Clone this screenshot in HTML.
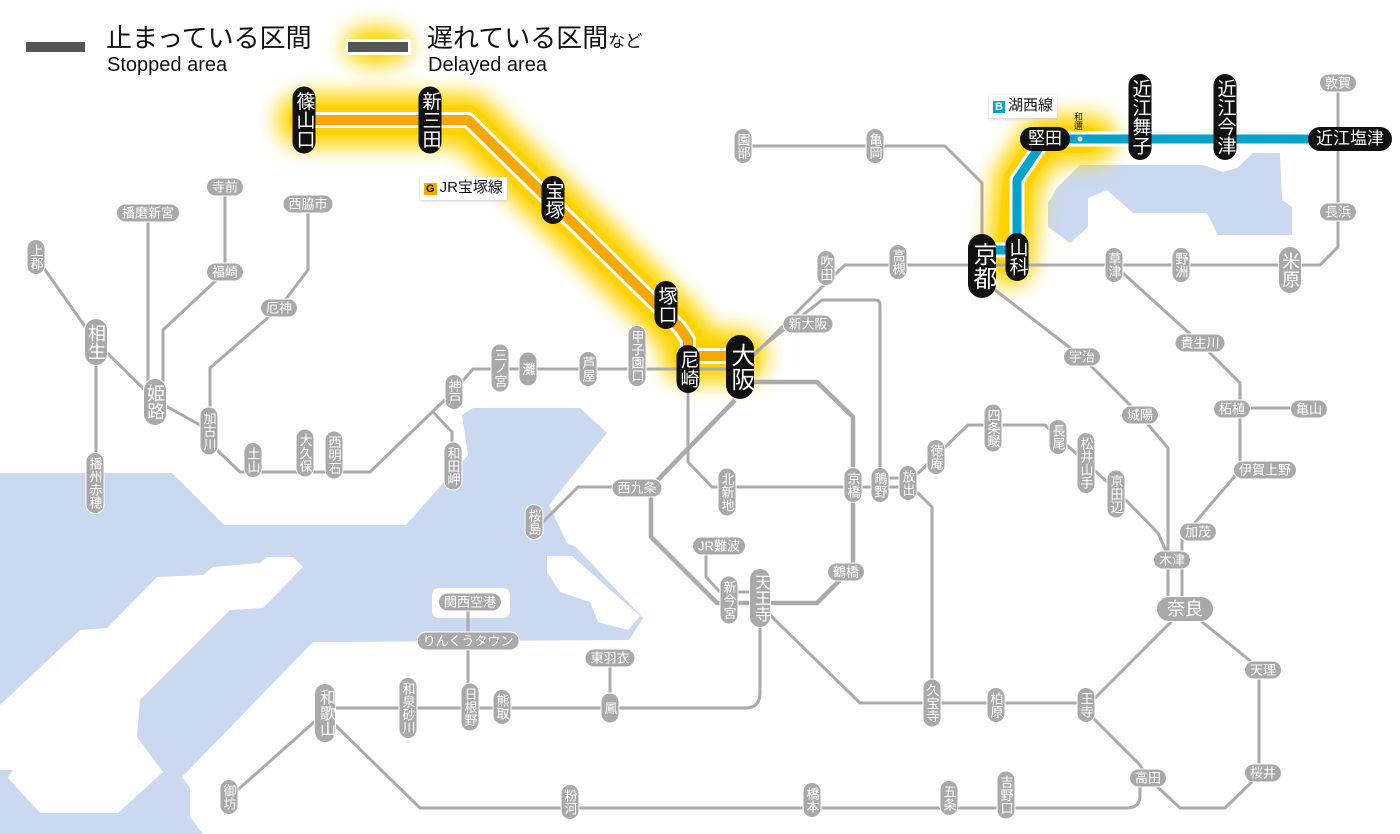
<!DOCTYPE html>
<html><head><meta charset="utf-8">
<style>
body{margin:0;background:#fff;}
#w{position:relative;width:1400px;height:834px;overflow:hidden;font-family:"Liberation Sans","Noto Sans CJK JP",sans-serif;}
svg{position:absolute;left:0;top:0;}
.l{position:absolute;transform:translate(-50%,-50%);color:#fff;white-space:nowrap;text-align:center;}
.gv{writing-mode:vertical-rl;text-orientation:upright;background:#a9a9a9;font-size:13px;line-height:17px;width:17px;padding:4px 0;border-radius:9px;box-shadow:0 0 0 1px #fff;}
.gh{background:#a9a9a9;font-size:13px;line-height:17px;padding:0 5px;border-radius:9px;box-shadow:0 0 0 1px #fff;}
.gvb{writing-mode:vertical-rl;text-orientation:upright;background:#a9a9a9;font-size:18px;line-height:22px;width:22px;padding:5px 0;border-radius:11px;box-shadow:0 0 0 1px #fff;}
.bv{writing-mode:vertical-rl;text-orientation:upright;background:#111;font-size:19px;line-height:23px;width:23px;padding:5px 0;border-radius:12px;}
.bvb{writing-mode:vertical-rl;text-orientation:upright;background:#111;font-size:24px;line-height:28px;width:28px;padding:8px 0;border-radius:14px;}
.bh{background:#111;font-size:17px;line-height:24px;padding:0 8px;border-radius:12px;}
.t{position:absolute;color:#111;white-space:nowrap;}
</style></head><body><div id="w">
<svg width="1400" height="834" viewBox="0 0 1400 834">
<defs><filter id="bl" x="-30%" y="-30%" width="160%" height="160%"><feGaussianBlur stdDeviation="10"/></filter></defs>
<g fill="#cad8f0">
<polygon points="0,473 172,473 224,525 406,525 468,455 462,415 473,408 580,408 607,433 549,505 567,543 576,547 643,618 629,640 313,642 182,777 190,788 190,817 203,834 0,834"/>
<polygon points="1048,203 1057,188 1080,165 1203,165 1223,172 1237,168 1253,153 1280,153 1282,200 1292,207 1292,235 1218,235 1207,213 1133,213 1107,190 1088,198 1088,227 1070,243 1048,227"/>
</g>
<g fill="#fff">
<polygon points="0,705 80,630 107,628 157,577 203,575 213,567 260,563 267,557 293,557 303,567 263,608 230,610 140,700 137,737 163,772 118,813 40,813 8,778 13,770 0,770"/>
<polygon points="547,556 572,556 640,616 628,630 598,622 590,602 560,592 547,572"/>
<rect x="432" y="588" width="78" height="30" rx="7"/>
</g>
<line x1="594" y1="500" x2="570" y2="540" stroke="#fff" stroke-width="3"/>
<g filter="url(#bl)" stroke="#ffd400" fill="none" stroke-linejoin="round" stroke-linecap="round">
<path d="M304,120 L468,120 L680,328 L688,340 L688,356 L740,356" stroke-width="54"/>
<path d="M1010,262 L1017,180 L1045,139 L1092,139" stroke-width="48"/>
<ellipse cx="377" cy="46" rx="34" ry="20" fill="#ffd400" stroke="none"/>
</g>
<g stroke="#ffcf00" fill="none" stroke-linejoin="round" stroke-linecap="round" opacity="0.6">
<path d="M304,120 L468,120 L680,328 L688,340 L688,356 L740,356" stroke-width="30"/>
<path d="M1010,262 L1017,180 L1045,139 L1085,139" stroke-width="28"/>
</g>
<g stroke="#aaa" stroke-width="3" fill="none" stroke-linejoin="round">
<path d="M740,369 L473,369 L455,390 L370,472 L240,472 L217,450 L209,430 L155,400 L96,342 L36,257"/>
<path d="M96,342 L96,483"/>
<path d="M148,213 L148,400"/>
<path d="M225,187 L225,272 L163,330 L163,400"/>
<path d="M308,204 L308,270 L279,308 L210,368 L210,430"/>
<path d="M433,412 L452,432 L452,465"/>
<path d="M740,369 L827,282 L845,265 L1320,265 L1338,247 L1338,83"/>
<path d="M748,358 L822,300 L875,300 Q880,300 880,305 L880,487"/>
<path d="M615,487 L578,487 L540,525"/>
<path d="M688,370 L688,462 L712,487 L908,487"/>
<path d="M880,478 L908,478"/>
<path d="M908,483 L932,507 L932,703"/>
<path d="M908,483 L968,425 L1045,425 L1058,437 L1116,490 L1158,533 L1170,560"/>
<path d="M982,280 L1082,357 L1140,415 L1168,448 L1168,608"/>
<path d="M1114,265 L1200,343 L1240,383 L1240,470 L1182,538 L1182,608"/>
<path d="M1240,408 L1310,408"/>
<path d="M1185,608 L1259,668 L1259,775 L1225,808 L1180,808 L1148,778 L1140,765 L1093,718 L1093,700 L1185,608"/>
<path d="M1093,703 L860,703 L770,615"/>
<path d="M1140,778 L1140,795 Q1140,808 1127,808 L420,808 L330,720"/>
<path d="M322,715 L232,795"/>
<path d="M330,708 L745,708 Q760,708 760,693 L760,600"/>
<path d="M468,602 L468,707"/>
<path d="M610,660 L610,708"/>
<path d="M706,546 L706,577 L720,592 L760,592"/>
<path d="M743,146 L945,146 L982,183 L982,240"/>
</g>
<path d="M740,382 L817,382 L853,417 L853,567 L817,603 L717,603 L651,537 L651,487 L735,400" stroke="#aaa" stroke-width="4.5" fill="none" stroke-linejoin="round"/>
<path d="M304,120 L468,120 L680,328 L688,340 L688,356 L740,356" stroke="#fff" stroke-width="16" fill="none" stroke-linejoin="round"/>
<path d="M304,120 L468,120 L680,328 L688,340 L688,356 L740,356" stroke="#f5a800" stroke-width="10" fill="none" stroke-linejoin="round"/>
<path d="M985,250 L1017,250 M1017,250 L1017,180 L1045,139 L1349,139" stroke="#fff" stroke-width="15" fill="none" stroke-linejoin="round"/>
<path d="M985,250 L1017,250 M1017,250 L1017,180 L1045,139 L1349,139" stroke="#00a3c9" stroke-width="9" fill="none" stroke-linejoin="round"/>
<circle cx="1080" cy="139" r="2.5" fill="#fff"/>
<rect x="26" y="42" width="59" height="10" fill="#555"/>
<rect x="345" y="39" width="66" height="16" fill="#fff"/>
<rect x="348" y="42" width="60" height="10" fill="#555"/>
</svg>

<div class="t" style="left:106px;top:22px;font-size:26px;line-height:32px;">止まっている区間</div>
<div class="t" style="left:107px;top:53px;font-size:20px;line-height:24px;">Stopped area</div>
<div class="t" style="left:427px;top:22px;font-size:26px;line-height:32px;">遅れている区間<span style="font-size:17px">など</span></div>
<div class="t" style="left:428px;top:53px;font-size:20px;line-height:24px;">Delayed area</div>

<div class="t" style="left:420px;top:177px;background:#fff;font-size:15px;line-height:21px;padding:0 4px;box-shadow:0 1px 3px #ccc;"><span style="background:#f5a800;color:#111;font-size:11px;font-weight:bold;padding:0 2px;margin-right:3px;">G</span>JR宝塚線</div>
<div class="t" style="left:989px;top:95px;background:#fff;font-size:15px;line-height:21px;padding:0 4px;box-shadow:0 1px 3px #ccc;"><span style="background:#00a3c9;color:#fff;font-size:11px;font-weight:bold;padding:0 2px;margin-right:3px;">B</span>湖西線</div>
<div class="t" style="left:1073px;top:112px;font-size:9px;line-height:10px;writing-mode:vertical-rl;text-orientation:upright;">和邇</div>

<div class="l bv" style="left:304px;top:120px;">篠山口</div>
<div class="l bv" style="left:430px;top:120px;">新三田</div>
<div class="l bv" style="left:553px;top:200px;">宝塚</div>
<div class="l bv" style="left:666px;top:305px;">塚口</div>
<div class="l bv" style="left:688px;top:369px;">尼崎</div>
<div class="l bvb" style="left:740px;top:367px;">大阪</div>
<div class="l bvb" style="left:982px;top:266px;">京都</div>
<div class="l bv" style="left:1017px;top:257px;">山科</div>
<div class="l bh" style="left:1045px;top:139px;">堅田</div>
<div class="l bv" style="left:1140px;top:117px;">近江舞子</div>
<div class="l bv" style="left:1225px;top:117px;">近江今津</div>
<div class="l bh" style="left:1350px;top:139px;">近江塩津</div>

<div class="l gv" style="left:36px;top:257px;">上郡</div>
<div class="l gvb" style="left:96px;top:342px;">相生</div>
<div class="l gv" style="left:95px;top:483px;">播州赤穂</div>
<div class="l gh" style="left:148px;top:213px;">播磨新宮</div>
<div class="l gh" style="left:225px;top:187px;">寺前</div>
<div class="l gh" style="left:225px;top:272px;">福崎</div>
<div class="l gh" style="left:308px;top:204px;">西脇市</div>
<div class="l gh" style="left:279px;top:308px;">厄神</div>
<div class="l gvb" style="left:155px;top:402px;">姫路</div>
<div class="l gv" style="left:209px;top:431px;">加古川</div>
<div class="l gv" style="left:253px;top:460px;">土山</div>
<div class="l gv" style="left:305px;top:453px;">大久保</div>
<div class="l gv" style="left:334px;top:455px;">西明石</div>
<div class="l gv" style="left:454px;top:392px;">神戸</div>
<div class="l gv" style="left:453px;top:466px;">和田岬</div>
<div class="l gv" style="left:500px;top:368px;">三ノ宮</div>
<div class="l gv" style="left:528px;top:369px;padding:10px 0;">灘</div>
<div class="l gv" style="left:588px;top:369px;">芦屋</div>
<div class="l gv" style="left:637px;top:356px;">甲子園口</div>
<div class="l gh" style="left:808px;top:324px;">新大阪</div>
<div class="l gv" style="left:826px;top:268px;">吹田</div>
<div class="l gv" style="left:898px;top:262px;">高槻</div>
<div class="l gv" style="left:743px;top:146px;">園部</div>
<div class="l gv" style="left:875px;top:146px;">亀岡</div>
<div class="l gh" style="left:1338px;top:83px;">敦賀</div>
<div class="l gh" style="left:1338px;top:212px;">長浜</div>
<div class="l gvb" style="left:1290px;top:270px;">米原</div>
<div class="l gv" style="left:1181px;top:265px;">野洲</div>
<div class="l gv" style="left:1114px;top:265px;">草津</div>
<div class="l gh" style="left:1200px;top:343px;">貴生川</div>
<div class="l gh" style="left:1082px;top:357px;">宇治</div>
<div class="l gh" style="left:1140px;top:415px;">城陽</div>
<div class="l gh" style="left:1232px;top:409px;">柘植</div>
<div class="l gh" style="left:1309px;top:409px;">亀山</div>
<div class="l gh" style="left:1265px;top:470px;">伊賀上野</div>
<div class="l gh" style="left:1198px;top:532px;">加茂</div>
<div class="l gh" style="left:1172px;top:560px;">木津</div>
<div class="l gh" style="left:1185px;top:609px;font-size:18px;line-height:22px;padding:1px 10px;border-radius:12px;">奈良</div>
<div class="l gh" style="left:1263px;top:670px;">天理</div>
<div class="l gh" style="left:1263px;top:773px;">桜井</div>
<div class="l gh" style="left:1148px;top:778px;">高田</div>
<div class="l gv" style="left:1086px;top:705px;">王寺</div>
<div class="l gv" style="left:996px;top:705px;">柏原</div>
<div class="l gv" style="left:932px;top:703px;">久宝寺</div>
<div class="l gv" style="left:949px;top:798px;">五条</div>
<div class="l gv" style="left:1006px;top:795px;">吉野口</div>
<div class="l gv" style="left:812px;top:800px;">橋本</div>
<div class="l gv" style="left:570px;top:802px;">粉河</div>
<div class="l gv" style="left:229px;top:797px;">御坊</div>
<div class="l gvb" style="left:325px;top:713px;font-size:16px;line-height:20px;width:20px;">和歌山</div>
<div class="l gv" style="left:408px;top:708px;">和泉砂川</div>
<div class="l gv" style="left:470px;top:707px;">日根野</div>
<div class="l gv" style="left:502px;top:707px;">熊取</div>
<div class="l gv" style="left:610px;top:708px;padding:8px 0;">鳳</div>
<div class="l gh" style="left:610px;top:658px;">東羽衣</div>
<div class="l gh" style="left:468px;top:641px;">りんくうタウン</div>
<div class="l gh" style="left:470px;top:602px;">関西空港</div>
<div class="l gvb" style="left:760px;top:598px;font-size:16px;line-height:19px;width:20px;">天王寺</div>
<div class="l gv" style="left:729px;top:600px;">新今宮</div>
<div class="l gh" style="left:719px;top:546px;">JR難波</div>
<div class="l gh" style="left:846px;top:572px;">鶴橋</div>
<div class="l gv" style="left:853px;top:485px;">京橋</div>
<div class="l gv" style="left:880px;top:485px;">鴫野</div>
<div class="l gv" style="left:908px;top:483px;">放出</div>
<div class="l gv" style="left:727px;top:492px;">北新地</div>
<div class="l gh" style="left:637px;top:488px;">西九条</div>
<div class="l gv" style="left:534px;top:522px;">桜島</div>
<div class="l gv" style="left:936px;top:457px;">徳庵</div>
<div class="l gv" style="left:993px;top:428px;">四条畷</div>
<div class="l gv" style="left:1058px;top:437px;">長尾</div>
<div class="l gv" style="left:1086px;top:463px;">松井山手</div>
<div class="l gv" style="left:1116px;top:494px;">京田辺</div>
</div></body></html>
